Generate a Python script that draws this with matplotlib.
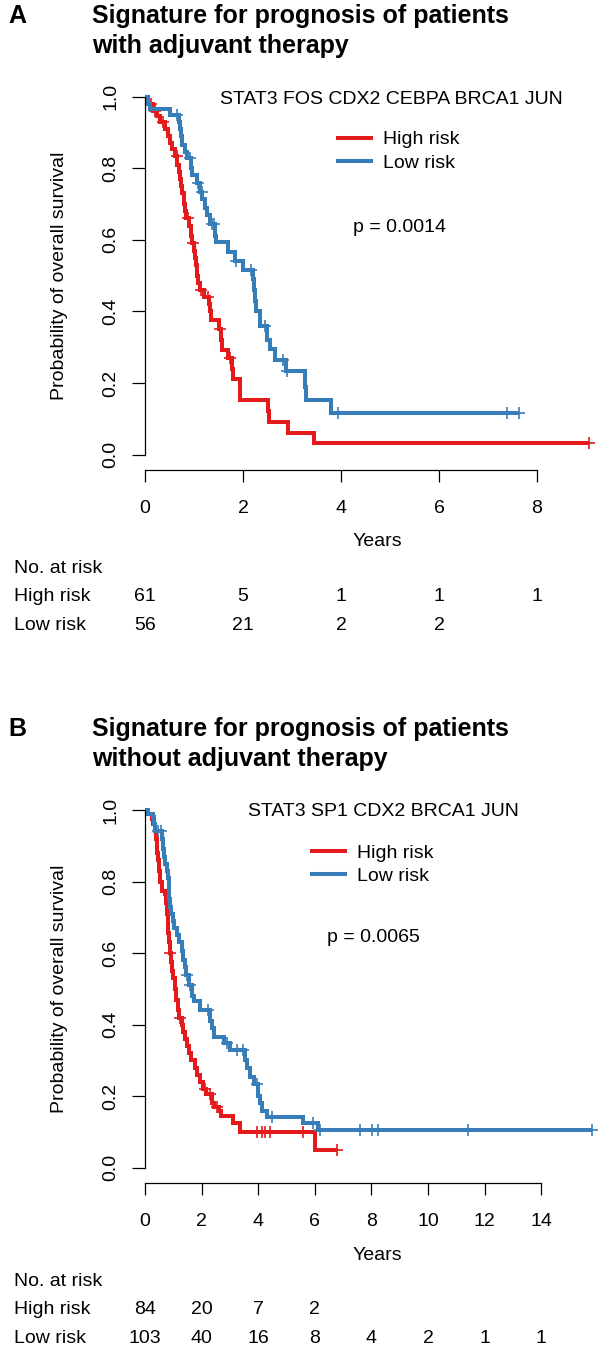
import numpy as np
import matplotlib.pyplot as plt
from matplotlib.transforms import blended_transform_factory

plt.rcParams["font.family"] = ["Liberation Sans", "DejaVu Sans"]

W, H = 599, 1349
RED = "#E41A1C"
BLUE = "#377EB8"
FS = 14
TITLE_FS = 18

# ---- panel A: with adjuvant therapy (event time in years, survival after event)
A_HIGH_T = [0.05, 0.16, 0.24, 0.30, 0.40, 0.46, 0.52, 0.56, 0.62, 0.66, 0.69, 0.72,
            0.74, 0.76, 0.79, 0.81, 0.84, 0.90, 0.93, 0.96, 1.00, 1.03, 1.05, 1.07,
            1.09, 1.12, 1.20, 1.30, 1.32, 1.34, 1.50, 1.56, 1.58, 1.70, 1.77, 1.79,
            1.93, 2.50, 2.53, 2.92, 3.45]
A_HIGH_S = [0.98, 0.96, 0.945, 0.93, 0.91, 0.89, 0.87, 0.855, 0.835, 0.81, 0.79, 0.77,
            0.75, 0.73, 0.70, 0.68, 0.66, 0.64, 0.61, 0.59, 0.57, 0.55, 0.53, 0.50,
            0.48, 0.46, 0.44, 0.42, 0.40, 0.377, 0.35, 0.32, 0.293, 0.27, 0.24, 0.21,
            0.153, 0.122, 0.092, 0.061, 0.031]
A_HIGH_CENS = [0.12, 0.20, 0.37, 0.65, 0.88, 0.98, 1.15, 1.29, 1.53, 1.73, 9.06]

A_LOW_T = [0.07, 0.10, 0.52, 0.70, 0.72, 0.74, 0.76, 0.81, 0.86, 0.94, 0.96, 1.06,
           1.13, 1.17, 1.22, 1.26, 1.33, 1.42, 1.45, 1.70, 1.83, 2.00, 2.20, 2.22,
           2.24, 2.27, 2.34, 2.48, 2.55, 2.65, 2.87, 3.26, 3.28, 3.79]
A_LOW_S = [0.98, 0.965, 0.948, 0.93, 0.91, 0.89, 0.865, 0.846, 0.83, 0.80, 0.78, 0.76,
           0.735, 0.715, 0.69, 0.67, 0.645, 0.61, 0.595, 0.565, 0.54, 0.516, 0.49, 0.46,
           0.43, 0.40, 0.36, 0.32, 0.295, 0.265, 0.232, 0.19, 0.153, 0.116]
A_LOW_CENS = [0.65, 0.92, 1.09, 1.16, 1.36, 1.40, 1.85, 2.17, 2.44, 2.82, 2.89, 3.93,
              7.39, 7.63]

A_TICKS = [0, 2, 4, 6, 8]
A_RISK_HIGH = [61, 5, 1, 1, 1]
A_RISK_LOW = [56, 21, 2, 2]

# ---- panel B: without adjuvant therapy
B_HIGH_T = [0.08, 0.25, 0.30, 0.34, 0.38, 0.41, 0.44, 0.47, 0.50, 0.53, 0.59, 0.72,
            0.74, 0.77, 0.80, 0.83, 0.86, 0.88, 0.92, 0.97, 1.00, 1.05, 1.10, 1.15,
            1.20, 1.30, 1.36, 1.42, 1.48, 1.55, 1.62, 1.75, 1.83, 1.94, 2.05, 2.15,
            2.38, 2.45, 2.62, 2.70, 3.12, 3.36, 6.00]
B_HIGH_S = [0.99, 0.975, 0.96, 0.94, 0.92, 0.90, 0.88, 0.86, 0.83, 0.80, 0.775, 0.765,
            0.74, 0.71, 0.68, 0.655, 0.63, 0.60, 0.575, 0.55, 0.53, 0.50, 0.47, 0.44,
            0.42, 0.40, 0.38, 0.36, 0.34, 0.32, 0.30, 0.28, 0.26, 0.24, 0.22, 0.205,
            0.18, 0.17, 0.16, 0.145, 0.125, 0.101, 0.05]
B_HIGH_CENS = [0.88, 1.24, 2.12, 2.30, 2.53, 3.95, 4.12, 4.24, 4.42, 5.60, 6.77]

B_LOW_T = [0.10, 0.29, 0.33, 0.35, 0.60, 0.63, 0.66, 0.72, 0.77, 0.82, 0.84, 0.86,
           0.88, 0.92, 0.98, 1.02, 1.12, 1.20, 1.30, 1.35, 1.40, 1.44, 1.55, 1.65,
           1.72, 1.94, 2.30, 2.38, 2.45, 2.80, 3.00, 3.55, 3.62, 3.71, 3.85, 4.00,
           4.06, 4.15, 4.30, 5.60, 6.13]
B_LOW_S = [0.99, 0.98, 0.96, 0.94, 0.92, 0.89, 0.87, 0.85, 0.83, 0.81, 0.78, 0.75,
           0.73, 0.71, 0.69, 0.67, 0.65, 0.63, 0.607, 0.58, 0.56, 0.54, 0.51, 0.48,
           0.465, 0.44, 0.41, 0.39, 0.365, 0.35, 0.33, 0.30, 0.28, 0.255, 0.235, 0.20,
           0.18, 0.16, 0.143, 0.124, 0.107]
B_LOW_CENS = [0.45, 0.55, 1.47, 1.59, 2.24, 2.89, 3.24, 3.47, 3.95, 4.50, 5.95, 6.18,
              7.58, 8.03, 8.22, 11.43, 15.78]

B_TICKS = [0, 2, 4, 6, 8, 10, 12, 14]
B_RISK_HIGH = [84, 20, 7, 2]
B_RISK_LOW = [103, 40, 16, 8, 4, 2, 1, 1]

Y_TICKS = [0.0, 0.2, 0.4, 0.6, 0.8, 1.0]
GROUPS = ["High risk", "Low risk"]


def fx(px):
    return px / W


def fy(py):
    return 1 - py / H


def surv_at(event_t, event_s, times):
    idx = np.searchsorted(event_t, times, side="right")
    s = np.concatenate([[1.0], event_s])
    return s[idx]


def draw_km(ax, event_t, event_s, cens_t, color):
    event_t = np.asarray(event_t)
    event_s = np.asarray(event_s)
    cens_t = np.asarray(cens_t)
    end_t = max(event_t.max(), cens_t.max())
    t = np.concatenate([[0.0], event_t, [end_t]])
    s = np.concatenate([[1.0], event_s, [event_s[-1]]])
    (line,) = ax.step(t, s, where="post", color=color, lw=2.9, clip_on=False,
                      solid_joinstyle="miter", solid_capstyle="butt")
    ax.plot(cens_t, surv_at(event_t, event_s, cens_t), ls="none", marker="+",
            ms=9, mew=1.2, color=color, clip_on=False)
    return line


def draw_panel(fig, letter, title, genes, p_text, high, low, ticks, risk_high,
               risk_low, top, px_per_year, genes_xy, legend_x, p_xy):
    bottom = top + 357.8
    left, right = 145, 596
    ax = fig.add_axes([fx(left), fy(bottom), fx(right - left), (bottom - top) / H])
    ax.set_xlim(0, (right - left) / px_per_year)
    ax.set_ylim(0, 1)

    line_high = draw_km(ax, *high, RED)
    line_low = draw_km(ax, *low, BLUE)

    for side in ["top", "right"]:
        ax.spines[side].set_visible(False)
    ax.spines["left"].set_bounds(0, 1)
    ax.spines["bottom"].set_bounds(ticks[0], ticks[-1])
    ax.spines["bottom"].set_position(("outward", 11))
    for side in ["left", "bottom"]:
        ax.spines[side].set_linewidth(0.9)

    ax.set_xticks(ticks)
    ax.set_xticklabels([str(t) for t in ticks])
    ax.set_yticks(Y_TICKS)
    ax.set_yticklabels([f"{v:.1f}" for v in Y_TICKS], rotation=90, va="center")
    ax.tick_params(axis="x", length=8.6, width=0.9, pad=13, labelsize=FS)
    ax.tick_params(axis="y", length=9.4, width=0.9, pad=9, labelsize=FS)
    ax.patch.set_visible(False)

    # titles
    fig.text(fx(8), fy(top - 81), letter, fontsize=TITLE_FS, fontweight="bold",
             ha="left", va="center")
    for i, line in enumerate(title):
        fig.text(fx(92), fy(top - 81 + 30 * i), line, fontsize=TITLE_FS,
                 fontweight="bold", ha="left", va="center")

    fig.text(fx(genes_xy[0]), fy(genes_xy[1]), genes, fontsize=FS, ha="left", va="center")
    fig.text(fx(p_xy[0]), fy(p_xy[1]), p_text, fontsize=FS, ha="left", va="center")

    ax.legend([line_high, line_low], GROUPS, loc="upper left", frameon=False,
              bbox_to_anchor=(fx(legend_x), fy(top + 34)), bbox_transform=fig.transFigure,
              fontsize=FS, handlelength=1.9, handletextpad=0.5, labelspacing=0.3,
              borderpad=0, borderaxespad=0)

    fig.text(fx(60), fy((top + bottom) / 2), "Probability of overall survival",
             fontsize=FS, rotation=90, ha="center", va="center")
    fig.text(fx(377), fy(top + 445), "Years", fontsize=FS, ha="center", va="center")

    trans = blended_transform_factory(ax.transData, fig.transFigure)
    fig.text(fx(13.5), fy(top + 471.5), "No. at risk", fontsize=FS, ha="left", va="center")
    fig.text(fx(13.5), fy(top + 500), GROUPS[0], fontsize=FS, ha="left", va="center")
    fig.text(fx(13.5), fy(top + 528.5), GROUPS[1], fontsize=FS, ha="left", va="center")
    for t, n in zip(ticks, risk_high):
        fig.text(t, fy(top + 500), str(n), transform=trans, fontsize=FS,
                 ha="center", va="center")
    for t, n in zip(ticks, risk_low):
        fig.text(t, fy(top + 528.5), str(n), transform=trans, fontsize=FS,
                 ha="center", va="center")
    return ax


def main():
    fig = plt.figure(figsize=(W / 100, H / 100), dpi=100)

    draw_panel(fig, "A", ["Signature for prognosis of patients", "with adjuvant therapy"],
               "STAT3 FOS CDX2 CEBPA BRCA1 JUN", "p = 0.0014",
               (A_HIGH_T, A_HIGH_S, A_HIGH_CENS), (A_LOW_T, A_LOW_S, A_LOW_CENS),
               A_TICKS, A_RISK_HIGH, A_RISK_LOW,
               top=96.7, px_per_year=49.0, genes_xy=(220, 100), legend_x=336,
               p_xy=(353, 228))

    draw_panel(fig, "B", ["Signature for prognosis of patients", "without adjuvant therapy"],
               "STAT3 SP1 CDX2 BRCA1 JUN", "p = 0.0065",
               (B_HIGH_T, B_HIGH_S, B_HIGH_CENS), (B_LOW_T, B_LOW_S, B_LOW_CENS),
               B_TICKS, B_RISK_HIGH, B_RISK_LOW,
               top=810, px_per_year=28.3, genes_xy=(248, 812), legend_x=310,
               p_xy=(327, 937))

    fig.savefig("out.png", dpi=100)


if __name__ == "__main__":
    main()
